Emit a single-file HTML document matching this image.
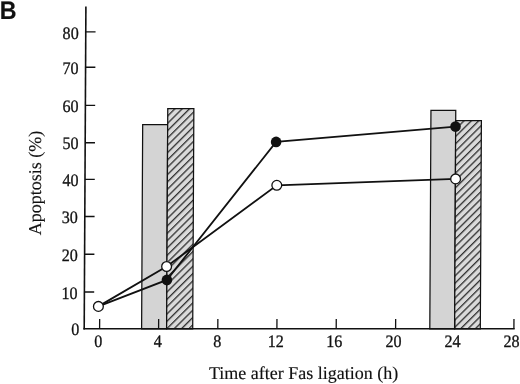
<!DOCTYPE html>
<html><head><meta charset="utf-8"><style>
html,body{margin:0;padding:0;background:#fff;}
svg{display:block;}
text{font-family:"Liberation Serif","Times New Roman",serif;fill:#111;stroke:#111;stroke-width:0.15px;text-rendering:geometricPrecision;}
.tk text{stroke-width:0.3px;}
</style></head><body>
<svg width="520" height="384" viewBox="0 0 520 384">
<defs>
<pattern id="hatch" patternUnits="userSpaceOnUse" width="5.195" height="5.195" patternTransform="rotate(45) translate(1.64,0)">
<rect x="-1" y="-1" width="8" height="8" fill="#dadada"/>
<rect x="0.15" y="-1" width="1.1" height="8" fill="#111"/>
</pattern>
</defs>
<rect width="520" height="384" fill="#fff"/>
<text transform="translate(-0.3,18.6) scale(0.92,1)" style="font-family:'Liberation Sans',Arial,sans-serif;font-weight:bold;font-size:25.3px">B</text>

<g transform="translate(1.73,0) skewX(-0.3)" stroke="#111" stroke-width="1.25" fill="none">
  <!-- bars at 4h -->
  <rect x="141.6" y="124.5" width="25.0" height="204.3" fill="#d4d4d4"/>
  <rect x="166.6" y="108.6" width="26.1" height="220.2" fill="url(#hatch)"/>
  <!-- bars at 24h -->
  <rect x="429.8" y="110.3" width="24.8" height="218.5" fill="#d4d4d4"/>
  <rect x="454.6" y="120.6" width="25.7" height="208.2" fill="url(#hatch)"/>
  <!-- y axis -->
  <line x1="84.2" y1="6.5" x2="84.2" y2="329.6" stroke-width="1.6"/>
  <!-- x axis -->
  <line x1="83.4" y1="328.8" x2="514.7" y2="328.8" stroke-width="1.6"/>
  <!-- y ticks -->
  <path stroke-width="1.35" d="M84.2 31.8H94.0M84.2 67.2H94.0M84.2 105.4H94.0M84.2 142.7H94.0M84.2 179.4H94.0M84.2 216.5H94.0M84.2 254.2H94.0M84.2 292.0H94.0"/>
  <!-- x ticks -->
  <path stroke-width="1.3" d="M99.6 328.8V319M158.6 328.8V319M217.8 328.8V319M276.9 328.8V319M336.2 328.8V319M395.6 328.8V319M454.7 328.8V319M513.9 328.8V319"/>
</g>

<g stroke="#111" stroke-width="1.8" fill="none">
  <polyline points="98.4,306.4 166.9,279.9 276.1,141.9 455.5,126.6"/>
  <polyline points="98.4,306.4 166.6,266.5 276.8,185.3 455.6,178.9"/>
</g>
<g fill="#111">
  <circle cx="166.9" cy="279.9" r="5.3"/>
  <circle cx="276.1" cy="141.9" r="5.3"/>
  <circle cx="455.5" cy="126.6" r="5.3"/>
</g>
<g fill="#fff" stroke="#111" stroke-width="1.3">
  <circle cx="98.4" cy="306.4" r="4.9"/>
  <circle cx="166.6" cy="266.5" r="4.9"/>
  <circle cx="276.8" cy="185.3" r="4.9"/>
  <circle cx="455.6" cy="178.9" r="4.9"/>
</g>

<g font-size="17.5" class="tk">
<text transform="translate(78.70,38.50) scale(0.92,1)" text-anchor="end">80</text>
<text transform="translate(78.50,74.15) scale(0.92,1)" text-anchor="end">70</text>
<text transform="translate(78.50,112.10) scale(0.92,1)" text-anchor="end">60</text>
<text transform="translate(78.50,149.30) scale(0.92,1)" text-anchor="end">50</text>
<text transform="translate(78.50,186.25) scale(0.92,1)" text-anchor="end">40</text>
<text transform="translate(77.90,223.35) scale(0.92,1)" text-anchor="end">30</text>
<text transform="translate(77.80,261.20) scale(0.92,1)" text-anchor="end">20</text>
<text transform="translate(77.65,299.15) scale(0.92,1)" text-anchor="end">10</text>
<text transform="translate(79.30,335.30) scale(0.92,1)" text-anchor="end">0</text>
<text transform="translate(98.25,347) scale(0.92,1)" text-anchor="middle">0</text>
<text transform="translate(157.75,347) scale(0.92,1)" text-anchor="middle">4</text>
<text transform="translate(217.30,347) scale(0.92,1)" text-anchor="middle">8</text>
<text transform="translate(275.70,347) scale(0.92,1)" text-anchor="middle">12</text>
<text transform="translate(334.30,347) scale(0.92,1)" text-anchor="middle">16</text>
<text transform="translate(393.50,347) scale(0.92,1)" text-anchor="middle">20</text>
<text transform="translate(452.60,347) scale(0.92,1)" text-anchor="middle">24</text>
<text transform="translate(511.50,347) scale(0.92,1)" text-anchor="middle">28</text>
</g>
<text x="209" y="379" font-size="18">Time after Fas ligation (h)</text>
<text transform="translate(40.8,235.2) rotate(-90)" font-size="18">Apoptosis (%)</text>
</svg>
</body></html>
